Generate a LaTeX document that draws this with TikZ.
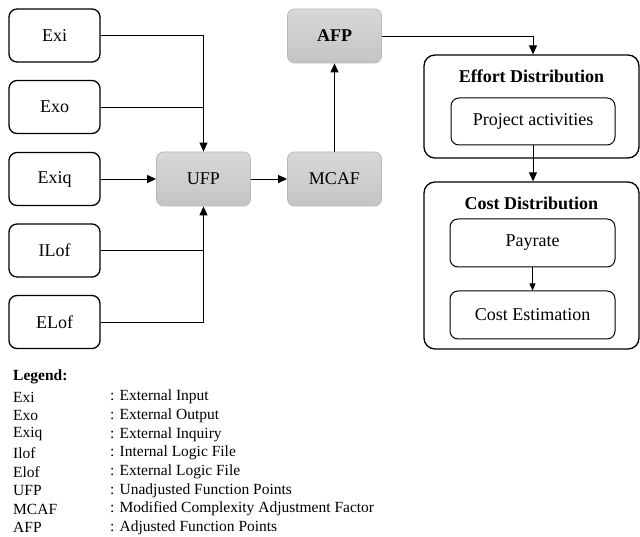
\documentclass[tikz,border=0pt]{standalone}
\usepackage{fontspec}
\setmainfont{Liberation Serif}
\usetikzlibrary{arrows.meta}
\definecolor{gtop}{RGB}{216,216,216}
\definecolor{gbot}{RGB}{196,196,196}
\definecolor{gedge}{RGB}{185,185,185}
\tikzset{
  wbox/.style={draw=black, line width=1.3pt, rounded corners=8pt, fill=white, inner sep=0pt, font=\rmfamily\fontsize{18}{20}\selectfont},
  gbox/.style={draw=gedge, line width=0.8pt, rounded corners=7pt, top color=gtop, bottom color=gbot, inner sep=0pt, font=\rmfamily\fontsize{18}{20}\selectfont},
  bigbox/.style={draw=black, line width=1.3pt, rounded corners=11pt, fill=white, inner sep=0pt},
  ibox/.style={draw=black, line width=1pt, rounded corners=8pt, fill=white, inner sep=0pt, font=\rmfamily\fontsize{18}{20}\selectfont},
  ttl/.style={font=\rmfamily\fontsize{18}{20}\selectfont\bfseries, inner sep=0pt},
  conn/.style={line width=0.9pt, -{Triangle[length=9pt,width=8pt]}},
  line/.style={line width=0.9pt},
  thinconn/.style={line width=0.7pt, -{Triangle[length=7pt,width=6pt]}},
  leg/.style={anchor=west, inner sep=0pt, font=\rmfamily\fontsize{15.5}{17}\selectfont},
}
\begin{document}
\begin{tikzpicture}[x=1pt,y=-1pt]
\useasboundingbox (0,0) rectangle (640,537);
% inputs
\node[wbox, minimum width=91pt, minimum height=53pt] (exi) at (54.5,35.5) {Exi};
\node[wbox, minimum width=91pt, minimum height=53pt] (exo) at (54.5,107) {Exo};
\node[wbox, minimum width=91pt, minimum height=53pt] (exiq) at (54.5,179) {Exiq};
\node[wbox, minimum width=91pt, minimum height=53pt] (ilof) at (54.5,250.5) {ILof};
\node[wbox, minimum width=91pt, minimum height=53pt] (elof) at (54.5,322) {ELof};
% gray
\node[gbox, minimum width=94pt, minimum height=54pt] (ufp) at (203.5,179) {UFP};
\node[gbox, minimum width=94pt, minimum height=54pt] (mcaf) at (334.5,179) {MCAF};
\node[gbox, minimum width=94pt, minimum height=54pt, font=\rmfamily\fontsize{18}{20}\selectfont\bfseries] (afp) at (334.5,36) {AFP};
% effort
\node[bigbox, minimum width=215pt, minimum height=103pt] (effort) at (531.5,106.5) {};
\node[ttl] (efftitle) at (531.5,76) {Effort Distribution};
\node[ibox, minimum width=164pt, minimum height=47pt] (pa) at (533,121.5) {Project activities};
% cost
\node[bigbox, minimum width=215pt, minimum height=167pt] (cost) at (531.5,265.5) {};
\node[ttl] (costtitle) at (531.5,203) {Cost Distribution};
\node[ibox, minimum width=165pt, minimum height=48pt] (pay) at (532.5,243) {Payrate};
\node[ibox, minimum width=165pt, minimum height=48pt] (cest) at (532.5,315) {Cost Estimation};
% connectors
\draw[conn] (exi.east) -| (ufp.north);
\draw[line] (exo.east) -- (exo.east -| ufp.north);
\draw[conn] (exiq.east) -- (ufp.west);
\draw[line] (ilof.east) -- (ilof.east -| ufp.south);
\draw[conn] (elof.east) -| (ufp.south);
\draw[conn] (ufp.east) -- (mcaf.west);
\draw[conn] (mcaf.north) -- (afp.south);
\draw[conn] (afp.east) -| (pa.north |- effort.north);
\draw[conn] (pa.south) -- (pa.south |- cost.north);
\draw[thinconn] (pay.south) -- (cest.north);
% legend
\node[leg, font=\rmfamily\fontsize{15.5}{17}\selectfont\bfseries] (lg) at (13,377) {Legend:};
\node[leg] (l1a) at (13,397) {Exi};    \node[leg] (l1b) at (110,397) {: External Input};
\node[leg] (l2a) at (13,415.7) {Exo};  \node[leg] (l2b) at (110,415.7) {: External Output};
\node[leg] (l3a) at (13,434.4) {Exiq}; \node[leg] (l3b) at (110,434.4) {: External Inquiry};
\node[leg] (l4a) at (13,453) {Ilof};   \node[leg] (l4b) at (110,453) {: Internal Logic File};
\node[leg] (l5a) at (13,471.8) {Elof}; \node[leg] (l5b) at (110,471.8) {: External Logic File};
\node[leg] (l6a) at (13,490.5) {UFP};  \node[leg] (l6b) at (110,490.5) {: Unadjusted Function Points};
\node[leg] (l7a) at (13,509.2) {MCAF}; \node[leg] (l7b) at (110,509.2) {: Modified Complexity Adjustment Factor};
\node[leg] (l8a) at (13,527.5) {AFP};  \node[leg] (l8b) at (110,527.5) {: Adjusted Function Points};
\end{tikzpicture}
\end{document}
